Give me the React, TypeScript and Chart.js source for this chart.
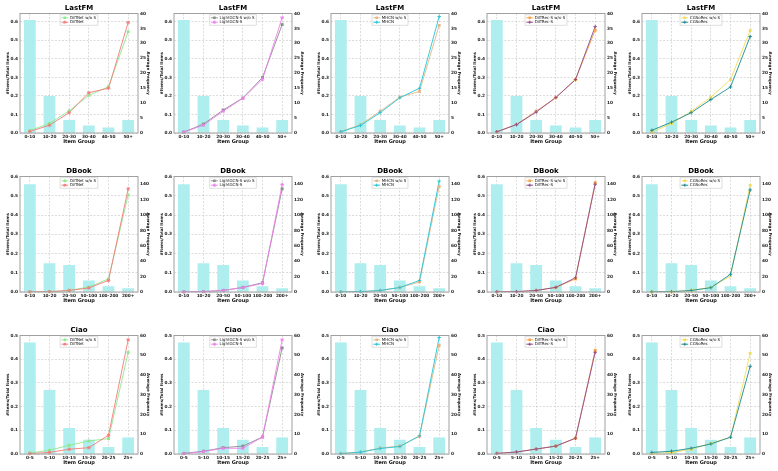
import React, { useEffect, useRef } from 'react';
import { Chart, registerables } from 'chart.js';

Chart.register(...registerables);

// ---------- categories ----------
const lastfmGroups = ['0-10', '10-20', '20-30', '30-40', '40-50', '50+'];
const dbookGroups = ['0-10', '10-20', '20-50', '50-100', '100-200', '200+'];
const ciaoGroups = ['0-5', '5-10', '10-15', '15-20', '20-25', '25+'];

// ---------- #Items / Total Items (bars) ----------
const lastfmItemRatio = [0.61, 0.2, 0.07, 0.04, 0.03, 0.07];
const dbookItemRatio = [0.56, 0.15, 0.14, 0.06, 0.03, 0.02];
const ciaoItemRatio = [0.47, 0.27, 0.11, 0.06, 0.03, 0.07];

// ---------- Average Frequency (lines) : LastFM ----------
const lastfmDiffNetWoS = [0.8, 3.2, 7.4, 12.6, 15.5, 33.9];
const lastfmDiffNet = [0.5, 2.6, 6.8, 13.5, 15.0, 37.0];
const lastfmLightGCNWoS = [0.3, 3.0, 7.7, 11.7, 18.6, 36.3];
const lastfmLightGCN = [0.3, 2.6, 7.3, 11.6, 18.0, 38.6];
const lastfmMHCNWoS = [0.5, 2.8, 7.3, 12.0, 13.9, 36.0];
const lastfmMHCN = [0.4, 2.5, 6.8, 11.8, 15.0, 39.0];
const lastfmDiffRecWoS = [0.4, 2.9, 7.3, 11.8, 17.9, 34.4];
const lastfmDiffRec = [0.4, 2.8, 7.0, 11.9, 17.9, 35.6];
const lastfmCGSoRecWoS = [0.3, 3.2, 7.2, 12.0, 17.9, 34.3];
const lastfmCGSoRec = [0.9, 3.6, 6.8, 11.2, 15.4, 32.3];

// ---------- Average Frequency (lines) : DBook ----------
const dbookDiffNetWoS = [0.3, 0.5, 2.0, 6.5, 17.0, 126.0];
const dbookDiffNet = [0.2, 0.4, 2.0, 5.2, 15.0, 134.0];
const dbookLightGCNWoS = [0.2, 0.5, 2.0, 6.0, 12.0, 134.0];
const dbookLightGCN = [0.2, 0.4, 2.0, 5.8, 11.0, 139.6];
const dbookMHCNWoS = [0.2, 0.5, 2.0, 6.0, 13.0, 137.0];
const dbookMHCN = [0.2, 0.4, 2.0, 5.8, 15.0, 144.0];
const dbookDiffRecWoS = [0.2, 0.5, 2.0, 6.0, 17.0, 142.0];
const dbookDiffRec = [0.2, 0.4, 2.0, 6.0, 18.5, 140.0];
const dbookCGSoRecWoS = [0.2, 0.3, 2.0, 6.0, 20.8, 138.7];
const dbookCGSoRec = [0.2, 0.4, 2.0, 5.6, 23.0, 132.6];

// ---------- Average Frequency (lines) : Ciao ----------
const ciaoDiffNetWoS = [0.5, 1.9, 4.4, 6.6, 7.8, 51.4];
const ciaoDiffNet = [0.2, 0.8, 2.4, 3.2, 9.5, 57.8];
const ciaoLightGCNWoS = [0.3, 1.4, 3.2, 4.0, 8.6, 53.7];
const ciaoLightGCN = [0.2, 1.2, 2.9, 2.9, 8.6, 57.8];
const ciaoMHCNWoS = [0.3, 1.0, 3.0, 4.0, 9.0, 55.0];
const ciaoMHCN = [0.2, 0.9, 2.8, 3.8, 9.2, 59.0];
const ciaoDiffRecWoS = [0.3, 1.0, 2.5, 4.0, 8.0, 52.5];
const ciaoDiffRec = [0.3, 1.0, 2.5, 4.0, 8.0, 51.5];
const ciaoCGSoRecWoS = [0.3, 0.7, 2.4, 5.4, 8.5, 51.0];
const ciaoCGSoRec = [0.8, 1.4, 2.9, 5.1, 8.5, 44.4];

// ---------- styles ----------
const FONT = "'DejaVu Sans', sans-serif";
const BAR_COLOR = '#aeeeee';
const GRID_COLOR = '#c4c4c4';
const FRAME_COLOR = '#a0a0a0';

const models = [
  { name: 'DiffNet', woColor: '#8fe88f', color: '#f47c7c', marker: 'star' },
  { name: 'LightGCN-S', woColor: '#8c8c8c', color: '#ee82ee', marker: 'star' },
  { name: 'MHCN', woColor: '#e2b887', color: '#22c5d8', marker: 'cross' },
  { name: 'DiffRec-S', woColor: '#f7a34b', color: '#8b4a8b', marker: 'cross' },
  { name: 'CGSoRec', woColor: '#f0dc5a', color: '#1a8a90', marker: 'cross' },
];

const rows = [
  {
    title: 'LastFM', groups: lastfmGroups, ratio: lastfmItemRatio,
    leftMax: 0.645, rightMax: 40, rightStep: 5,
    series: [
      [lastfmDiffNetWoS, lastfmDiffNet],
      [lastfmLightGCNWoS, lastfmLightGCN],
      [lastfmMHCNWoS, lastfmMHCN],
      [lastfmDiffRecWoS, lastfmDiffRec],
      [lastfmCGSoRecWoS, lastfmCGSoRec],
    ],
  },
  {
    title: 'DBook', groups: dbookGroups, ratio: dbookItemRatio,
    leftMax: 0.6, rightMax: 150, rightStep: 20,
    series: [
      [dbookDiffNetWoS, dbookDiffNet],
      [dbookLightGCNWoS, dbookLightGCN],
      [dbookMHCNWoS, dbookMHCN],
      [dbookDiffRecWoS, dbookDiffRec],
      [dbookCGSoRecWoS, dbookCGSoRec],
    ],
  },
  {
    title: 'Ciao', groups: ciaoGroups, ratio: ciaoItemRatio,
    leftMax: 0.5, rightMax: 60, rightStep: 10,
    series: [
      [ciaoDiffNetWoS, ciaoDiffNet],
      [ciaoLightGCNWoS, ciaoLightGCN],
      [ciaoMHCNWoS, ciaoMHCN],
      [ciaoDiffRecWoS, ciaoDiffRec],
      [ciaoCGSoRecWoS, ciaoCGSoRec],
    ],
  },
];

// layout (plot area rectangles)
const colLefts = [20, 174, 331, 487, 642];
const plotW = 118;
const rowTops = [13, 176, 335];
const rowHeights = [119, 115, 118];
const LEFT_W = 20;
const RIGHT_W = 20;
const TITLE_H = 8.5;
const XAXIS_H = 11;

function drawMarker(ctx: CanvasRenderingContext2D, style: string, x: number, y: number, r: number, color: string) {
  ctx.save();
  ctx.strokeStyle = color;
  ctx.fillStyle = color;
  ctx.lineWidth = 0.9;
  ctx.setLineDash([]);
  ctx.beginPath();
  if (style === 'rect') {
    const s = r * 0.8;
    ctx.rect(x - s, y - s, 2 * s, 2 * s);
    ctx.fill();
  } else if (style === 'cross') {
    ctx.moveTo(x - r, y); ctx.lineTo(x + r, y);
    ctx.moveTo(x, y - r); ctx.lineTo(x, y + r);
    ctx.stroke();
  } else {
    const d = r * 0.75;
    ctx.moveTo(x - r, y); ctx.lineTo(x + r, y);
    ctx.moveTo(x, y - r); ctx.lineTo(x, y + r);
    ctx.moveTo(x - d, y - d); ctx.lineTo(x + d, y + d);
    ctx.moveTo(x - d, y + d); ctx.lineTo(x + d, y - d);
    ctx.stroke();
  }
  ctx.restore();
}

const framePlugin = {
  id: 'frameAndLegend',
  afterDatasetsDraw(chart: any) {
    const { ctx, chartArea } = chart;
    const { left, top, right, bottom } = chartArea;
    chart.data.datasets.forEach((ds: any, i: number) => {
      if (ds.type !== 'line') return;
      const meta = chart.getDatasetMeta(i);
      meta.data.forEach((pt: any) => drawMarker(ctx, ds.marker, pt.x, pt.y, 1.8, ds.borderColor));
    });
    ctx.save();
    ctx.strokeStyle = FRAME_COLOR;
    ctx.lineWidth = 1;
    ctx.setLineDash([]);
    ctx.strokeRect(left, top, right - left, bottom - top);
    ctx.restore();
    const items = chart.data.datasets.filter((d: any) => d.type === 'line');
    ctx.save();
    ctx.font = `4px ${FONT}`;
    const textW = Math.max(...items.map((d: any) => ctx.measureText(d.label).width));
    const pad = 1.2;
    const lineLen = 7;
    const gap = 1.6;
    const rowH = 4.4;
    const boxW = pad + lineLen + gap + textW + pad + 0.6;
    const boxH = pad * 2 + rowH * items.length - 0.6;
    const bx = (left + right) / 2 - boxW / 2;
    const by = top + 1.2;
    ctx.fillStyle = 'rgba(255,255,255,0.85)';
    ctx.strokeStyle = '#c8c8c8';
    ctx.lineWidth = 0.6;
    ctx.beginPath();
    ctx.rect(bx, by, boxW, boxH);
    ctx.fill();
    ctx.stroke();
    items.forEach((d: any, i: number) => {
      const cy = by + pad + rowH * i + rowH / 2 - 0.3;
      const lx = bx + pad;
      ctx.strokeStyle = d.borderColor;
      ctx.lineWidth = 0.9;
      ctx.beginPath();
      ctx.moveTo(lx, cy);
      ctx.lineTo(lx + lineLen, cy);
      ctx.stroke();
      drawMarker(ctx, d.marker, lx + lineLen / 2, cy, 1.6, d.borderColor);
      ctx.fillStyle = '#111';
      ctx.textBaseline = 'middle';
      ctx.textAlign = 'left';
      ctx.fillText(d.label, lx + lineLen + gap, cy + 0.2);
    });
    ctx.restore();
  },
};

function stepFilter(step: number) {
  return (scale: any) => {
    scale.ticks = scale.ticks.filter((t: any) => Math.abs(t.value / step - Math.round(t.value / step)) < 1e-6);
  };
}

type PanelProps = { r: number; c: number };

function Panel({ r, c }: PanelProps) {
  const ref = useRef<HTMLCanvasElement>(null);
  const row = rows[r];
  const model = models[c];
  const [woS, withS] = row.series[c];
  const w = LEFT_W + plotW + RIGHT_W;
  const h = Math.round(TITLE_H + rowHeights[r] + XAXIS_H);
  const left = colLefts[c] - LEFT_W;
  const top = rowTops[r] - TITLE_H;

  useEffect(() => {
    const tickFont = { family: FONT, size: 4.3, weight: 'bold' as const };
    const titleFont = { family: FONT, size: 4, weight: 'bold' as const, lineHeight: 1 };
    const chart = new Chart(ref.current as HTMLCanvasElement, {
      type: 'bar',
      data: {
        labels: row.groups,
        datasets: [
          {
            type: 'bar',
            label: '#Items',
            data: row.ratio,
            backgroundColor: BAR_COLOR,
            borderWidth: 0,
            barPercentage: 0.6,
            categoryPercentage: 1.0,
            yAxisID: 'y',
            order: 10,
          } as any,
          {
            type: 'line',
            label: `${model.name} w/o S`,
            data: woS,
            borderColor: model.woColor,
            backgroundColor: model.woColor,
            borderWidth: 0.9,
            pointRadius: 0,
            tension: 0,
            yAxisID: 'y1',
            order: 2,
            marker: 'rect',
          } as any,
          {
            type: 'line',
            label: model.name,
            data: withS,
            borderColor: model.color,
            backgroundColor: model.color,
            borderWidth: 0.9,
            pointRadius: 0,
            tension: 0,
            yAxisID: 'y1',
            order: 1,
            marker: model.marker,
          } as any,
        ],
      },
      options: {
        animation: false,
        responsive: false,
        devicePixelRatio: 1,
        layout: { padding: 0 },
        plugins: {
          legend: { display: false },
          tooltip: { enabled: false },
          title: {
            display: true,
            text: row.title,
            color: '#000',
            font: { family: FONT, size: 7, weight: 'bold', lineHeight: 1 },
            padding: { top: 0, bottom: 1.5 },
          },
        },
        scales: {
          x: {
            type: 'category',
            offset: true,
            grid: { offset: false, color: GRID_COLOR, lineWidth: 0.6, drawTicks: false },
            border: { display: false, dash: [2, 1.5] },
            ticks: { font: tickFont, color: '#222', padding: 1.5, maxRotation: 0, autoSkip: false },
            title: { display: true, text: 'Item Group', color: '#111', font: { family: FONT, size: 5, weight: 'bold', lineHeight: 1 }, padding: 0 },
            afterFit: (s: any) => { s.height = XAXIS_H; },
          },
          y: {
            position: 'left',
            min: 0,
            max: row.leftMax,
            grid: { color: GRID_COLOR, lineWidth: 0.6, drawTicks: false },
            border: { display: false, dash: [2, 1.5] },
            ticks: { stepSize: 0.1, font: tickFont, color: '#222', padding: 2, callback: (v: any) => Number(v).toFixed(1) },
            afterBuildTicks: stepFilter(0.1),
            title: { display: true, text: '#Items/Total Items', color: '#111', font: titleFont, padding: { top: 6, bottom: 0 } },
            afterFit: (s: any) => { s.width = LEFT_W; },
          },
          y1: {
            position: 'right',
            min: 0,
            max: row.rightMax,
            grid: { display: false, drawTicks: false },
            border: { display: false },
            ticks: { stepSize: row.rightStep, font: tickFont, color: '#222', padding: 2, callback: (v: any) => String(v) },
            afterBuildTicks: stepFilter(row.rightStep),
            title: { display: true, text: 'Average Frequency', color: '#111', font: titleFont, padding: { top: 8, bottom: 0 } },
            afterFit: (s: any) => { s.width = RIGHT_W; },
          },
        },
      } as any,
      plugins: [framePlugin],
    });
    return () => chart.destroy();
  }, []);

  return (
    <canvas
      ref={ref}
      width={w}
      height={h}
      style={{ position: 'absolute', left, top, width: w, height: h }}
    />
  );
}

export default function App() {
  const panels = [];
  for (let r = 0; r < 3; r++) {
    for (let c = 0; c < 5; c++) {
      panels.push(<Panel key={`${r}-${c}`} r={r} c={c} />);
    }
  }
  return (
    <div style={{ position: 'absolute', left: 0, top: 0, width: 778, height: 471, background: '#fff', overflow: 'hidden' }}>
      {panels}
    </div>
  );
}
